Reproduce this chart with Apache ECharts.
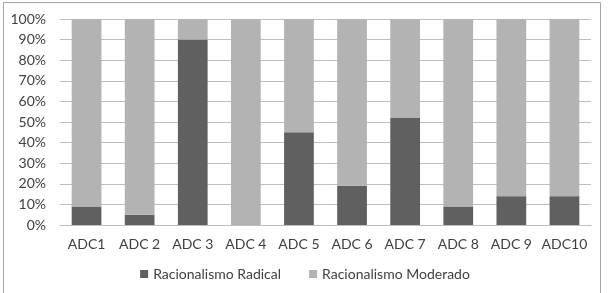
<!DOCTYPE html>
<html>
<head>
<meta charset="utf-8">
<script src="https://cdn.jsdelivr.net/npm/echarts@6/dist/echarts.min.js"></script>
<style>
html, body { margin: 0; padding: 0; background: #fff; }
#chart { width: 610px; height: 293px; }
</style>
</head>
<body>
<div id="chart"></div>
<script>
// categorias e valores (%)
const categorias = ['ADC1', 'ADC 2', 'ADC 3', 'ADC 4', 'ADC 5', 'ADC 6', 'ADC 7', 'ADC 8', 'ADC 9', 'ADC10'];
const radical = [9, 5, 90, 0, 45, 19, 52, 9, 14, 14];
const moderado = [91, 95, 10, 100, 55, 81, 48, 91, 86, 86];

const chart = echarts.init(document.getElementById('chart'));
const fonte = 'Lato, sans-serif';

const option = {
    animation: false,
    textStyle: { fontFamily: fonte },
    graphic: [{
        type: 'rect',
        shape: { x: 3.5, y: 2.5, width: 597, height: 300 },
        style: { fill: 'none', stroke: '#a6a6a6', lineWidth: 1 }
    }],
    grid: { left: 60, right: 19, top: 19, bottom: 68 },
    legend: {
        bottom: 7,
        left: 'center',
        itemWidth: 8,
        itemHeight: 8,
        itemGap: 28,
        icon: 'rect',
        textStyle: { fontSize: 14, color: '#404040', fontFamily: fonte }
    },
    xAxis: {
        type: 'category',
        data: categorias,
        axisLine: { show: true, lineStyle: { color: '#bfbfbf' } },
        axisTick: { show: false },
        axisLabel: { fontSize: 14, color: '#404040', margin: 12, interval: 0 }
    },
    yAxis: {
        type: 'value',
        min: 0,
        max: 100,
        interval: 10,
        axisLabel: { formatter: '{value}%', fontSize: 14, color: '#404040', margin: 14 },
        splitLine: { lineStyle: { color: '#bfbfbf' } },
        axisLine: { show: false },
        axisTick: { show: false }
    },
    series: [
        {
            name: 'Racionalismo Radical',
            type: 'bar',
            stack: 'total',
            data: radical,
            barWidth: '56%',
            itemStyle: { color: '#606060' }
        },
        {
            name: 'Racionalismo Moderado',
            type: 'bar',
            stack: 'total',
            data: moderado,
            itemStyle: { color: '#b3b3b3' }
        }
    ]
};

chart.setOption(option);
</script>
</body>
</html>
